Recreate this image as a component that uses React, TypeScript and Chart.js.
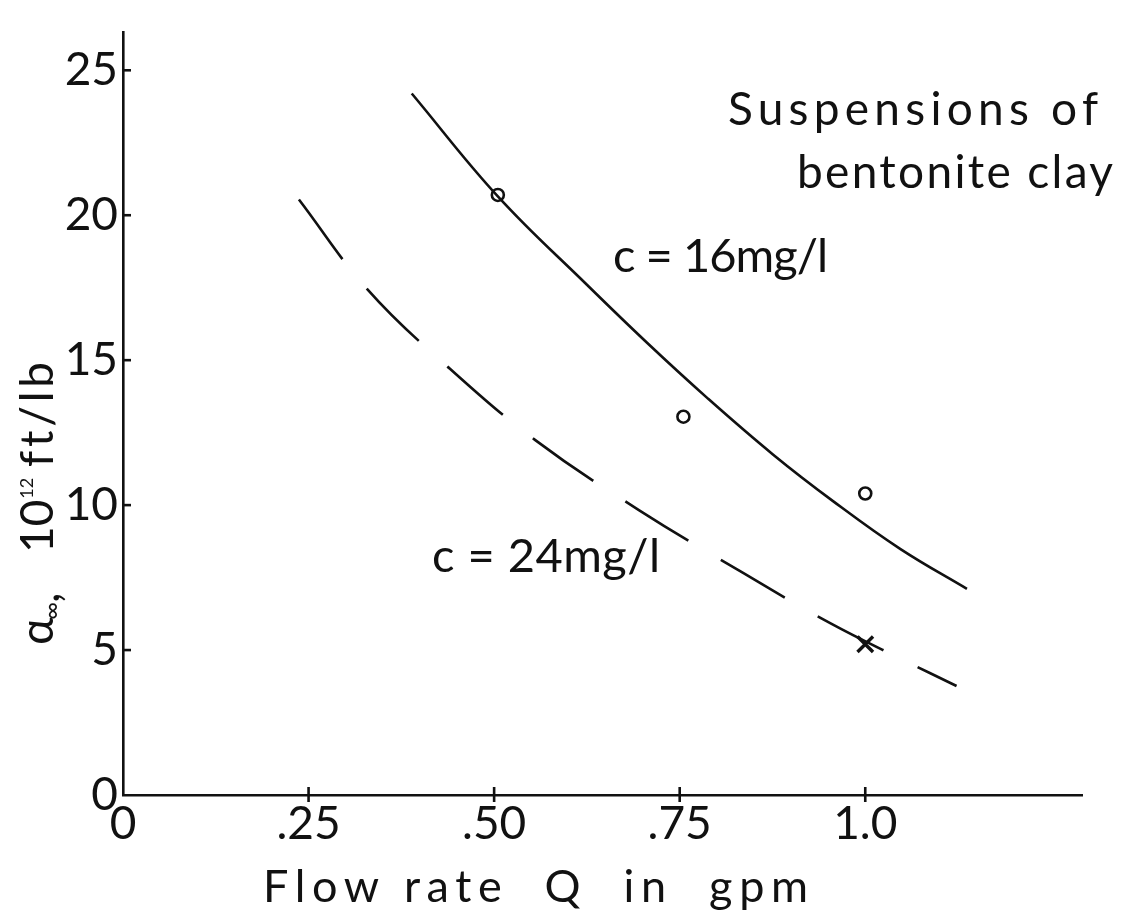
import React, { useEffect, useRef } from "react";
import { Chart, registerables } from "chart.js";

Chart.register(...registerables);

// Axis ticks
const flowTicks = [0, 0.25, 0.5, 0.75, 1.0];
const flowTickLabels = ["0", ".25", ".50", ".75", "1.0"];
const resistTicks = [0, 5, 10, 15, 20, 25];

// Fitted curve, c = 16 mg/l (flow rate in gpm, resistance in 10^12 ft/lb)
const curve16Q = [0.389, 0.505, 0.625, 0.706, 0.787, 0.876, 0.957, 1.047, 1.137];
const curve16A = [24.2, 20.65, 17.6, 15.6, 13.7, 11.74, 10.13, 8.49, 7.11];

// Fitted curve, c = 24 mg/l
const curve24Q = [0.237, 0.329, 0.435, 0.555, 0.695, 0.836, 0.954, 1.051, 1.123];
const curve24A = [20.54, 17.45, 14.83, 12.25, 9.83, 7.65, 5.91, 4.66, 3.76];

// Measured points
const obs16Q = [0.505, 0.755, 1.0];
const obs16A = [20.7, 13.05, 10.4];
const obs24Q = [1.0];
const obs24A = [5.2];

const INK = "#111111";
const FAMILY = "Lato, 'Open Sans', sans-serif";
const LINE_W = 2.6;

const pts = (xs: number[], ys: number[]) => xs.map((x, i) => ({ x, y: ys[i] }));

// Draw a string with letter spacing chosen so that it spans `width` pixels
function drawFitted(ctx: CanvasRenderingContext2D, text: string, x: number, y: number, width: number, font: string) {
  ctx.font = font;
  (ctx as any).letterSpacing = "0px";
  const n = Array.from(text).length;
  const w0 = ctx.measureText(text).width;
  const ls = n > 1 ? (width - w0) / (n - 1) : 0;
  (ctx as any).letterSpacing = `${ls}px`;
  ctx.fillText(text, x, y);
  (ctx as any).letterSpacing = "0px";
}

const overlay = {
  id: "overlay",
  afterDraw(chart: any) {
    const ctx: CanvasRenderingContext2D = chart.ctx;
    const xs = chart.scales.x;
    const ys = chart.scales.y;
    const area = chart.chartArea;
    ctx.save();
    ctx.strokeStyle = INK;
    ctx.fillStyle = INK;
    ctx.lineWidth = LINE_W;
    ctx.lineCap = "butt";

    // inward tick marks on the y axis
    for (const v of resistTicks) {
      if (v === 0) continue;
      const py = ys.getPixelForValue(v);
      ctx.beginPath();
      ctx.moveTo(area.left, py);
      ctx.lineTo(area.left + 8, py);
      ctx.stroke();
    }
    // tick marks crossing the x axis
    for (const v of flowTicks) {
      if (v === 0) continue;
      const px = xs.getPixelForValue(v);
      ctx.beginPath();
      ctx.moveTo(px, area.bottom - 8);
      ctx.lineTo(px, area.bottom + 7);
      ctx.stroke();
    }

    ctx.textAlign = "left";
    ctx.textBaseline = "alphabetic";
    const f46 = `400 46px ${FAMILY}`;

    // annotations
    drawFitted(ctx, "Suspensions of", 728, 125, 370, f46);
    drawFitted(ctx, "bentonite clay", 797, 188, 316, f46);
    drawFitted(ctx, "c = 16mg/l", 613, 272, 215, `400 47px ${FAMILY}`);
    drawFitted(ctx, "c = 24mg/l", 432, 572, 228, `400 47px ${FAMILY}`);

    // x axis title
    drawFitted(ctx, "Flow rate  Q  in  gpm", 263, 902, 545, `400 45px ${FAMILY}`);

    // y axis title, rotated
    ctx.translate(53, 645);
    ctx.rotate(-Math.PI / 2);
    ctx.font = `400 46px ${FAMILY}`;
    ctx.fillText("\u03B1", 0, 0);
    const wa = ctx.measureText("\u03B1").width;
    ctx.font = `400 24px ${FAMILY}`;
    ctx.fillText("\u221E", wa - 2, 7);
    ctx.font = `400 46px ${FAMILY}`;
    ctx.fillText(",", 42, 6);
    ctx.fillText("10", 92, 0);
    const w10 = ctx.measureText("10").width;
    ctx.font = `400 18px ${FAMILY}`;
    ctx.fillText("12", 92 + w10 + 1, -20);
    drawFitted(ctx, "ft/lb", 178, 0, 104, `400 46px ${FAMILY}`);

    ctx.restore();
  },
};

export default function App() {
  const canvasRef = useRef<HTMLCanvasElement | null>(null);

  useEffect(() => {
    const canvas = canvasRef.current;
    if (!canvas) return;
    const tickFont = { family: FAMILY, size: 46, weight: 400 as any };

    const chart = new Chart(canvas, {
      type: "scatter",
      data: {
        datasets: [
          {
            type: "line",
            label: "c = 16mg/l",
            data: pts(curve16Q, curve16A),
            borderColor: INK,
            borderWidth: LINE_W,
            pointRadius: 0,
            tension: 0.4,
            fill: false,
          },
          {
            type: "line",
            label: "c = 24mg/l",
            data: pts(curve24Q, curve24A),
            borderColor: INK,
            borderWidth: LINE_W,
            borderDash: [74, 38],
            pointRadius: 0,
            tension: 0.4,
            fill: false,
          },
          {
            label: "measured, 16mg/l",
            data: pts(obs16Q, obs16A),
            pointStyle: "circle",
            pointRadius: 6,
            borderColor: INK,
            borderWidth: LINE_W,
            backgroundColor: "#ffffff",
          },
          {
            label: "measured, 24mg/l",
            data: pts(obs24Q, obs24A),
            pointStyle: "crossRot",
            pointRadius: 11,
            borderColor: INK,
            borderWidth: 3.4,
          },
        ],
      } as any,
      options: {
        responsive: false,
        animation: false,
        devicePixelRatio: 1,
        layout: { padding: { top: 12, right: 40, left: 0, bottom: 0 } },
        plugins: { legend: { display: false }, tooltip: { enabled: false } },
        scales: {
          x: {
            type: "linear",
            min: 0,
            max: 1.292,
            afterBuildTicks: (s: any) => {
              s.ticks = flowTicks.map((v) => ({ value: v }));
            },
            afterFit: (s: any) => {
              s.height = 123;
            },
            grid: { display: false, drawTicks: false },
            border: { display: true, color: INK, width: LINE_W },
            ticks: {
              color: INK,
              font: tickFont,
              padding: 2,
              maxRotation: 0,
              autoSkip: false,
              callback: (_v: any, i: number) => flowTickLabels[i],
            },
          },
          y: {
            type: "linear",
            min: 0,
            max: 26.3,
            afterBuildTicks: (s: any) => {
              s.ticks = resistTicks.map((v) => ({ value: v }));
            },
            afterFit: (s: any) => {
              s.width = 123;
            },
            grid: { display: false, drawTicks: false },
            border: { display: true, color: INK, width: LINE_W },
            ticks: {
              color: INK,
              font: tickFont,
              padding: 5,
              autoSkip: false,
              callback: (v: any) => String(v),
            },
          },
        },
      } as any,
      plugins: [overlay],
    });

    return () => chart.destroy();
  }, []);

  return (
    <div style={{ position: "absolute", left: 0, top: 0, width: 1122, height: 918, background: "#ffffff" }}>
      <canvas ref={canvasRef} width={1122} height={918} style={{ display: "block" }} />
    </div>
  );
}
